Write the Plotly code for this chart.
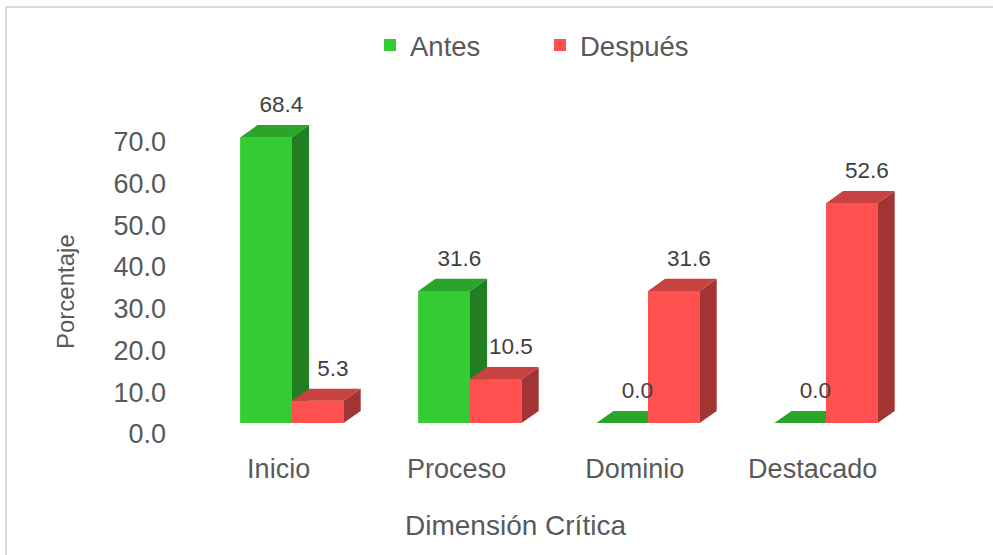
import plotly.graph_objects as go

# Datos del grafico
categorias = ["Inicio", "Proceso", "Dominio", "Destacado"]
antes = [68.4, 31.6, 0.0, 0.0]
despues = [5.3, 10.5, 31.6, 52.6]
y_ticks = [0, 10, 20, 30, 40, 50, 60, 70]

# Geometria del lienzo (px)
WIDTH, HEIGHT = 993, 555
M_L, M_R, M_T, M_B = 172, 73, 90, 132
X_RANGE = [-0.674, 3.528]
Y_RANGE = [0, 79.7]

# Falso 3D: ancho de barra y profundidad en unidades de datos
W = 0.29
DX = 0.096
DY = 2.9

COLORES = {
    "Antes": {"front": "#33CC33", "top": "#2AA52A", "side": "#217F21"},
    "Después": {"front": "#FF5050", "top": "#C94242", "side": "#A23434"},
}
TXT = "#595959"
FONT = "Liberation Sans, Arial, sans-serif"


def px_to_paper(px, py):
    pw = WIDTH - M_L - M_R
    ph = HEIGHT - M_T - M_B
    return (px - M_L) / pw, (HEIGHT - M_B - py) / ph


def caras(valores, offset):
    # devuelve poligonos (x, y) de frente, tapa y lateral para cada barra
    fx, fy, tx, ty, sx, sy = [], [], [], [], [], []
    for i, v in enumerate(valores):
        x0 = i + offset
        x1 = x0 + W
        fx += [x0, x1, x1, x0, x0, None]
        fy += [0, 0, v, v, 0, None]
        tx += [x0, x1, x1 + DX, x0 + DX, x0, None]
        ty += [v, v, v + DY, v + DY, v, None]
        sx += [x1, x1 + DX, x1 + DX, x1, x1, None]
        sy += [0, DY, v + DY, v, 0, None]
    return (fx, fy), (tx, ty), (sx, sy)


fig = go.Figure()

idx = list(range(len(categorias)))

# barras normales (sirven para la leyenda, quedan debajo de los poligonos)
for nombre, vals, off in [("Antes", antes, -W), ("Después", despues, 0.0)]:
    fig.add_trace(go.Bar(
        name=nombre, x=idx, y=vals, width=W, offset=off,
        marker=dict(color=COLORES[nombre]["front"], line=dict(width=0)),
        hoverinfo="skip",
    ))

# caras 3D, en orden de atras hacia adelante
for nombre, vals, off in [("Antes", antes, -W), ("Después", despues, 0.0)]:
    front, top, side = caras(vals, off)
    for (xs, ys), key in [(side, "side"), (top, "top"), (front, "front")]:
        fig.add_trace(go.Scatter(
            x=xs, y=ys, mode="lines", fill="toself",
            fillcolor=COLORES[nombre][key], line=dict(width=0),
            showlegend=False, hoverinfo="skip",
        ))

# etiquetas de datos
for vals, off in [(antes, -W), (despues, 0.0)]:
    fig.add_trace(go.Scatter(
        x=[i + off + W / 2 + 0.085 for i in idx],
        y=[v + 7.4 for v in vals],
        text=[f"{v:.1f}" for v in vals],
        mode="text", textposition="middle center",
        textfont=dict(size=22.5, color="#404040", family=FONT),
        showlegend=False, hoverinfo="skip", cliponaxis=False,
    ))

lx, ly = px_to_paper(540, 45)
tx_, ty_ = px_to_paper(65, 292)
xt_x, xt_y = px_to_paper(515, 525)
bx0, by0 = px_to_paper(6, 7)
bx1, by1 = px_to_paper(1005, 565)

fig.update_layout(
    width=WIDTH, height=HEIGHT,
    margin=dict(l=M_L, r=M_R, t=M_T, b=M_B),
    paper_bgcolor="white", plot_bgcolor="white",
    font=dict(family=FONT, color=TXT),
    barmode="overlay",
    showlegend=True,
    legend=dict(
        orientation="h", x=lx, y=ly, xanchor="center", yanchor="middle",
        font=dict(size=27.5, color=TXT), entrywidth=125,
    ),
    xaxis=dict(
        range=X_RANGE, showgrid=False, zeroline=False, showline=False,
        tickvals=[i - 0.075 for i in idx], ticktext=categorias,
        tickfont=dict(size=27, color=TXT), ticks="", ticklabelstandoff=27,
    ),
    yaxis=dict(
        range=Y_RANGE, showgrid=False, zeroline=False, showline=False,
        tickvals=y_ticks, tickformat=".1f",
        tickfont=dict(size=27, color=TXT), ticks="", ticklabelshift=11,
        ticklabelstandoff=5,
    ),
    annotations=[
        dict(
            text="Porcentaje", xref="paper", yref="paper", x=tx_, y=ty_,
            textangle=-90, showarrow=False, font=dict(size=24, color=TXT),
            xanchor="center", yanchor="middle",
        ),
        dict(
            text="Dimensión Crítica", xref="paper", yref="paper", x=xt_x, y=xt_y,
            showarrow=False, font=dict(size=28, color=TXT),
            xanchor="center", yanchor="middle",
        ),
    ],
    shapes=[dict(
        type="rect", xref="paper", yref="paper", x0=bx0, y0=by1, x1=bx1, y1=by0,
        line=dict(color="#D9D9D9", width=2), layer="below",
    )],
)

fig.write_html("out.html", config={"displayModeBar": False},
               post_script="document.body.style.margin='0';")
